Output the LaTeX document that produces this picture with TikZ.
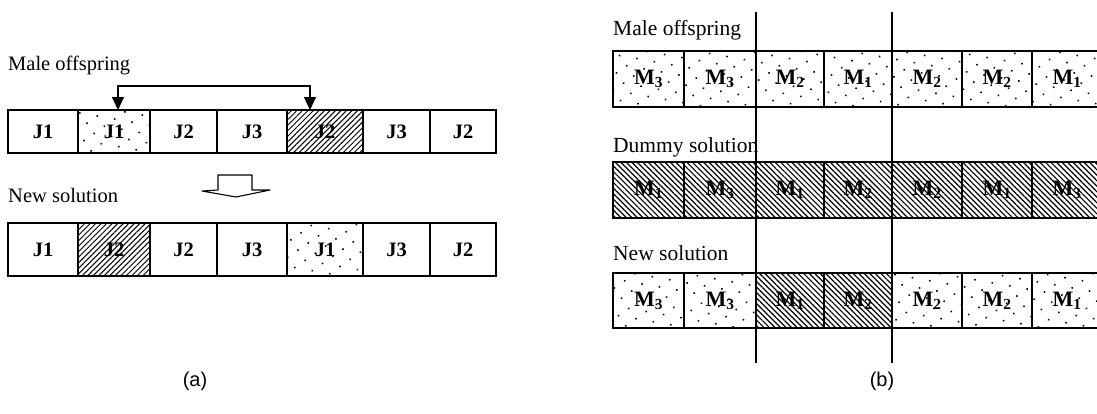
\documentclass[tikz,border=0pt]{standalone}
\usepackage{fontspec}
\setmainfont{Liberation Serif}
\newfontfamily\capfont{Liberation Sans}
\usetikzlibrary{arrows.meta,patterns.meta}

\tikzset{
  cell/.style={draw=black, line width=1.2pt, inner sep=0pt, outer sep=0pt,
    minimum height=#1, font=\fontsize{20.5}{20.5}\selectfont\bfseries},
  dotty/.style={pattern={Dots[distance=12.5pt,radius=1.1pt,angle=35]}, pattern color=black},
  hatchL/.style={pattern={Lines[angle=45,distance=3.9pt,line width=1pt]}, pattern color=black},
  hatchR/.style={pattern={Lines[angle=-45,distance=3.9pt,line width=1.2pt]}, pattern color=black},
  title/.style={anchor=west, inner sep=0pt, font=\fontsize{20.5}{20.5}\selectfont},
  titleR/.style={anchor=west, inner sep=0pt, font=\fontsize{21.5}{21.5}\selectfont},
  caption/.style={inner sep=0pt, font=\capfont\fontsize{20}{20}\selectfont},
  swaparrow/.style={line width=1.2pt, {Triangle[length=13pt,width=12pt]}-{Triangle[length=13pt,width=12pt]}},
  vline/.style={line width=1.2pt},
}

% place a cell given its left and right edges, its centre line and height
\newcommand{\cellat}[7]{%
  \node[cell=#5, minimum width={(#3)-(#2)}, #6] (#1) at ({((#2)+(#3))/2},#4) {#7};}
% gene label for a machine
\newcommand{\mach}[1]{\fontsize{22}{22}\selectfont M\textsubscript{#1}}

\begin{document}
\begin{tikzpicture}[x=1pt,y=-1pt]
\clip (0,0) rectangle (1097,413);
\fill[white] (0,0) rectangle (1097,413);

% ---------------- (a) swap of two genes ----------------
\node[title] (aMale) at (8,65) {Male offspring};
\cellat{a1}{8}{78}{131.5}{43pt}{}{J1}
\cellat{a2}{78}{150}{131.5}{43pt}{dotty}{J1}
\cellat{a3}{150}{217}{131.5}{43pt}{}{J2}
\cellat{a4}{217}{287}{131.5}{43pt}{}{J3}
\cellat{a5}{287}{363}{131.5}{43pt}{hatchL}{J2}
\cellat{a6}{363}{430}{131.5}{43pt}{}{J3}
\cellat{a7}{430}{496}{131.5}{43pt}{}{J2}

\draw[swaparrow] ([xshift=4pt]a2.north) -- ++(0,-24) -| ([xshift=-15pt]a5.north);

% hollow down arrow
\draw[line width=1.1pt, line join=round]
  (218,175) -- (252,175) -- (252,190) -- (270,190) -- (236,197)
  -- (202,191) -- (218,190) -- cycle;

\node[title] (aNew) at (8,195) {New solution};
\cellat{b1}{8}{78}{249.5}{53pt}{}{J1}
\cellat{b2}{78}{150}{249.5}{53pt}{hatchL}{J2}
\cellat{b3}{150}{217}{249.5}{53pt}{}{J2}
\cellat{b4}{217}{287}{249.5}{53pt}{}{J3}
\cellat{b5}{287}{363}{249.5}{53pt}{dotty}{J1}
\cellat{b6}{363}{430}{249.5}{53pt}{}{J3}
\cellat{b7}{430}{496}{249.5}{53pt}{}{J2}

\node[caption] (capA) at (195,381) {(a)};

% ---------------- (b) two-point crossover with dummy ----------------
\node[titleR] (rMale) at (613,30) {Male offspring};
\cellat{m1}{613}{684}{79}{56pt}{dotty}{\mach{3}}
\cellat{m2}{684}{756}{79}{56pt}{dotty}{\mach{3}}
\cellat{m3}{756}{824}{79}{56pt}{dotty}{\mach{2}}
\cellat{m4}{824}{892}{79}{56pt}{dotty}{\mach{1}}
\cellat{m5}{892}{962}{79}{56pt}{dotty}{\mach{2}}
\cellat{m6}{962}{1032}{79}{56pt}{dotty}{\mach{2}}
\cellat{m7}{1032}{1102}{79}{56pt}{dotty}{\mach{1}}

\node[titleR] (rDummy) at (613,147) {Dummy solution};
\cellat{d1}{613}{684}{190}{56pt}{hatchR}{\mach{1}}
\cellat{d2}{684}{756}{190}{56pt}{hatchR}{\mach{3}}
\cellat{d3}{756}{824}{190}{56pt}{hatchR}{\mach{1}}
\cellat{d4}{824}{892}{190}{56pt}{hatchR}{\mach{2}}
\cellat{d5}{892}{962}{190}{56pt}{hatchR}{\mach{2}}
\cellat{d6}{962}{1032}{190}{56pt}{hatchR}{\mach{1}}
\cellat{d7}{1032}{1102}{190}{56pt}{hatchR}{\mach{3}}

\node[titleR] (rNew) at (613,253) {New solution};
\cellat{n1}{613}{684}{300.5}{55pt}{dotty}{\mach{3}}
\cellat{n2}{684}{756}{300.5}{55pt}{dotty}{\mach{3}}
\cellat{n3}{756}{824}{300.5}{55pt}{hatchR}{\mach{1}}
\cellat{n4}{824}{892}{300.5}{55pt}{hatchR}{\mach{2}}
\cellat{n5}{892}{962}{300.5}{55pt}{dotty}{\mach{2}}
\cellat{n6}{962}{1032}{300.5}{55pt}{dotty}{\mach{2}}
\cellat{n7}{1032}{1102}{300.5}{55pt}{dotty}{\mach{1}}

% cut points
\coordinate (cutAtop) at (756,12);
\coordinate (cutAbot) at (756,363);
\coordinate (cutBtop) at (892,12);
\coordinate (cutBbot) at (892,363);
\draw[vline] (cutAtop) -- (cutAbot);
\draw[vline] (cutBtop) -- (cutBbot);

\node[caption] (capB) at (882,381) {(b)};
\end{tikzpicture}
\end{document}
